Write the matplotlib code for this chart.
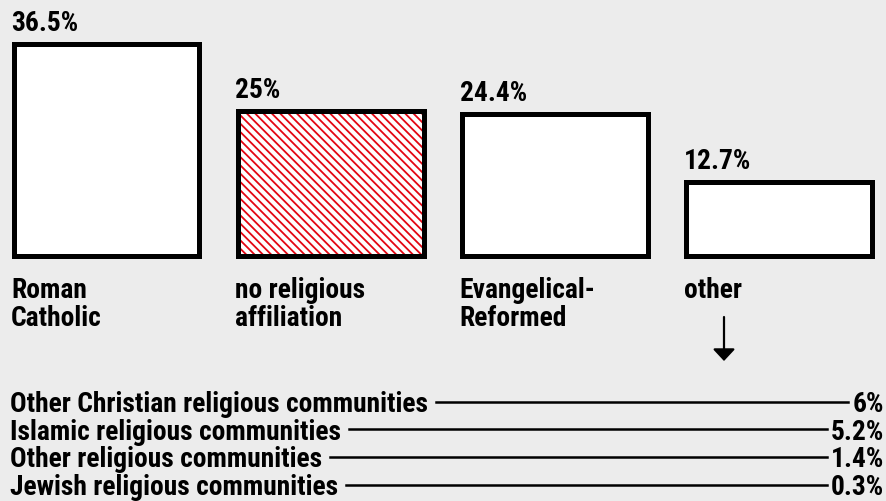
import matplotlib
matplotlib.use('Agg')
import matplotlib.pyplot as plt
import matplotlib.transforms as mtransforms
from matplotlib import font_manager as fm

# main bars
categories = ["Roman\nCatholic", "no religious\naffiliation", "Evangelical-\nReformed", "other"]
shares = [36.5, 25, 24.4, 12.7]
hatched = [False, True, False, False]

# breakdown of "other"
other_groups = ["Other Christian religious communities",
                "Islamic religious communities",
                "Other religious communities",
                "Jewish religious communities"]
other_shares = [6, 5.2, 1.4, 0.3]


def pick_family(names):
    for name in names:
        try:
            fm.findfont(fm.FontProperties(family=name, weight='bold'), fallback_to_default=False)
            return name
        except ValueError:
            continue
    return 'DejaVu Sans'


family = pick_family(['Liberation Sans Narrow', 'Roboto Condensed', 'DejaVu Sans'])
plt.rcParams['font.family'] = [family, 'DejaVu Sans']
plt.rcParams['font.weight'] = 'bold'
plt.rcParams['hatch.linewidth'] = 1.3

W, H = 887, 502
bg = '#ececec'
fs = 19.8

fig = plt.figure(figsize=(W / 100, H / 100), dpi=100, facecolor=bg)
ax = fig.add_axes([0, 0, 1, 1])
ax.set_facecolor(bg)
ax.axis('off')

# pixel coords measured from top-left
px = mtransforms.Affine2D().scale(1 / W, -1 / H).translate(0, 1) + fig.transFigure

slot = 224.3   # px between bar centres
scale = 5.8    # px per percentage point
base = 256.5   # px from top to bar baseline
ax.set_xlim(-106.5 / slot, (W - 106.5) / slot)
ax.set_ylim(-(H - base) / scale, base / scale)
width = 186 / slot

for i, (v, h) in enumerate(zip(shares, hatched)):
    if h:
        ax.bar(i, v, width, color='white', edgecolor='#e30613', hatch='\\\\\\\\', lw=0)
        ax.bar(i, v, width, fill=False, edgecolor='black', lw=3.6)
    else:
        ax.bar(i, v, width, color='white', edgecolor='black', lw=3.6)

    ax.annotate(f"{v:g}%", xy=(i - width / 2, v), xytext=(-2.5, 14),
                textcoords='offset pixels', ha='left', va='baseline', fontsize=fs)
    for j, line in enumerate(categories[i].split('\n')):
        ax.annotate(line, xy=(i - width / 2, 0), xytext=(-2.5, -(41 + 29 * j)),
                    textcoords='offset pixels', ha='left', va='baseline', fontsize=fs)

# arrow under "other"
ax.annotate('', xy=(724, 362), xytext=(724, 318), xycoords=px, textcoords=px,
            arrowprops=dict(arrowstyle='-|>,head_length=0.45,head_width=0.42',
                            mutation_scale=16, lw=1.6, color='black',
                            shrinkA=0, shrinkB=0))

fig.canvas.draw()
renderer = fig.canvas.get_renderer()
for k, (name, v) in enumerate(zip(other_groups, other_shares)):
    yb = 412 + 27.7 * k
    t1 = ax.text(10, yb, name, transform=px, ha='left', va='baseline', fontsize=fs)
    t2 = ax.text(884, yb, f"{v:g}%", transform=px, ha='right', va='baseline', fontsize=fs)
    bb1 = t1.get_window_extent(renderer)
    bb2 = t2.get_window_extent(renderer)
    ax.plot([bb1.x1 + 8, bb2.x0 - 4], [yb - 9.5, yb - 9.5], transform=px,
            color='black', lw=1.8, clip_on=False)

fig.savefig('out.png', dpi=100, facecolor=bg)
